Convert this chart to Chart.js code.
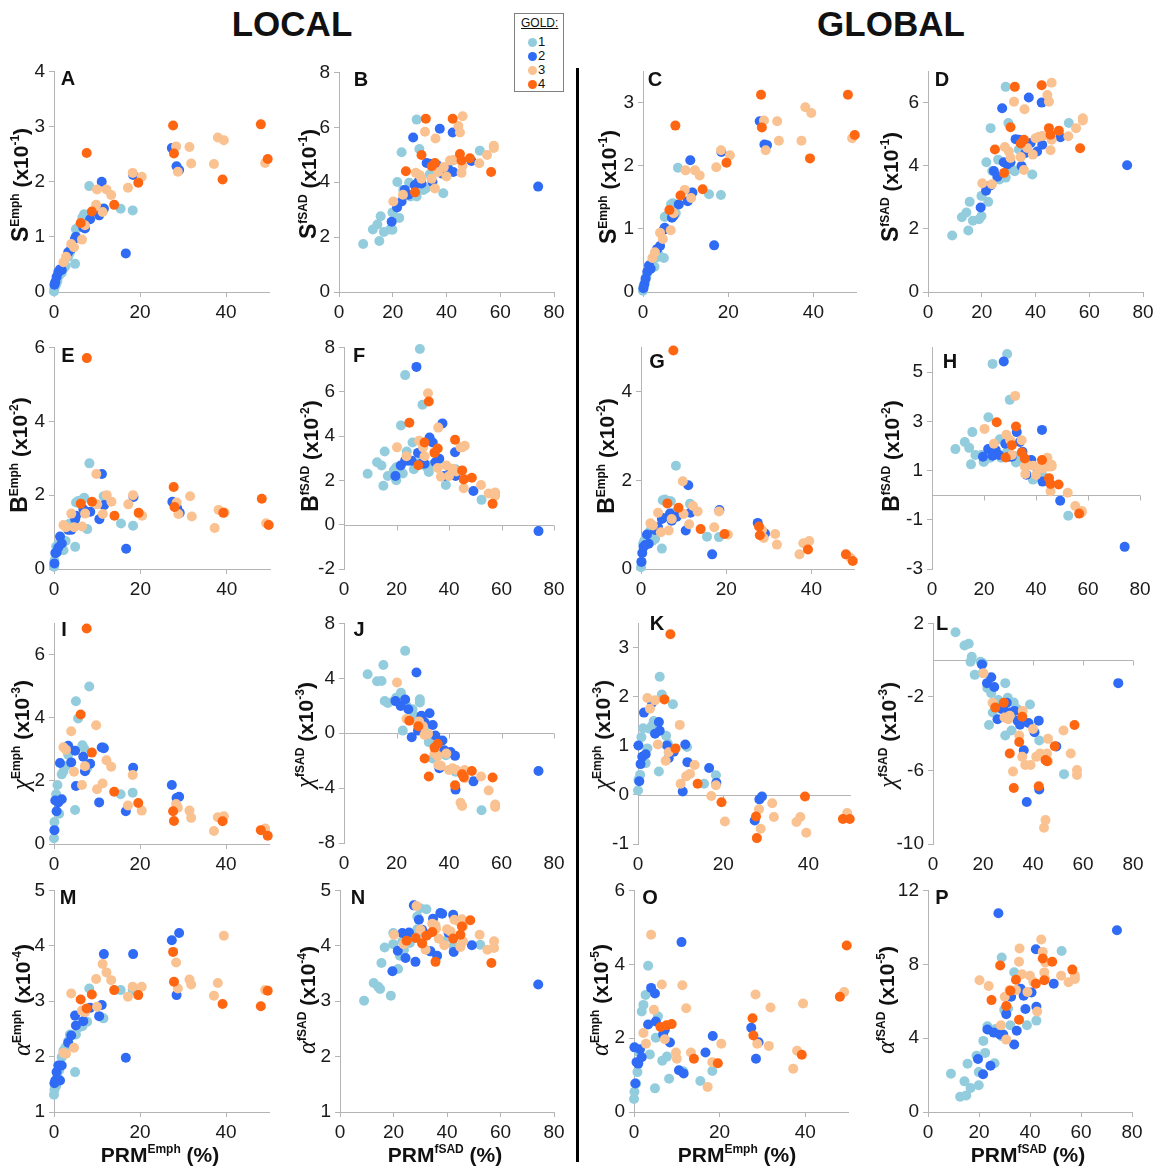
<!DOCTYPE html>
<html>
<head>
<meta charset="utf-8">
<title>PRM vs emphysema / fSAD topology</title>
<script src="https://cdn.jsdelivr.net/npm/chart.js@4.4.1/dist/chart.umd.min.js"></script>
<style>
  body { margin: 0; background: #fff; }
  #fig { position: relative; width: 1153px; height: 1170px; overflow: hidden;
         font-family: "Liberation Sans", Arial, sans-serif; color: #111; }
  .panel { position: absolute; }
  .head { position: absolute; font-weight: bold; font-size: 35px; transform: translate(-50%, -50%); }
  .letter { position: absolute; font-weight: bold; font-size: 20px; transform: translate(-50%, -50%); }
  .ytitle { position: absolute; white-space: nowrap; font-weight: bold; font-size: 21px;
            transform: translate(-50%, -50%) rotate(-90deg); }
  .ytitle .sym { font-size: 23px; }
  .ytitle .greek { font-family: "Liberation Serif", "DejaVu Serif", serif; font-weight: normal;
                   font-style: italic; font-size: 25px; }
  .ytitle sup, .xtitle sup { font-size: 12px; vertical-align: 9px; line-height: 0; }
  .xtitle { position: absolute; white-space: nowrap; font-weight: bold; font-size: 21px;
            transform: translate(-50%, -50%); }
  #divider { position: absolute; left: 576px; top: 68px; width: 3px; height: 1094px; background: #000; }
  #legend { position: absolute; left: 514px; top: 13px; width: 48px; height: 77px;
            border: 1px solid #808080; font-size: 13px; }
  #legend .lt { position: absolute; left: 6px; top: 2px; font-size: 12px; text-decoration: underline; }
  #legend .row { position: absolute; left: 13px; height: 14px; line-height: 14px; }
  #legend .dot { display: inline-block; width: 9px; height: 9px; border-radius: 50%;
                 vertical-align: -1px; margin-right: 1px; }
</style>
</head>
<body>
<div id="fig">
  <div class="head" style="left:292px; top:24px;">LOCAL</div>
  <div class="head" style="left:891px; top:24px;">GLOBAL</div>
  <div id="divider"></div>
  <div id="legend"><div class="lt">GOLD:</div></div>
</div>
<script>
// GOLD 1..4 colours
const goldColors = ['#93CDDD', '#2F6BF5', '#FAC191', '#FF6612'];

// PRM (%) of each subject, grouped by GOLD stage
const prmEmph = [
  [0.0, 0.1, 0.5, 0.8, 1.2, 1.8, 2.2, 2.7, 3.3, 3.7, 4.9, 5.1, 5.6, 6.6, 7.0, 7.7, 8.2, 11.5, 15.5, 18.3],
  [0.1, 0.3, 0.6, 1.0, 1.4, 1.8, 3.3, 4.0, 4.9, 5.1, 6.8, 7.2, 8.4, 10.5, 11.1, 11.6, 16.7, 18.4, 27.4, 28.5, 29.1],
  [2.2, 2.8, 4.0, 4.65, 6.5, 7.2, 9.8, 10.0, 11.3, 12.2, 13.3, 17.2, 18.3, 20.4, 28.4, 28.8, 31.5, 31.9, 37.2, 38.1, 39.5, 49.1],
  [6.2, 7.6, 8.8, 14, 19.6, 27.7, 27.9, 39.2, 48.1, 49.7],
];
const prmFsad = [
  [9.0, 12.6, 14.3, 15.0, 15.5, 16.7, 19.0, 19.9, 19.9, 21.7, 22.4, 23.3, 23.9, 26.1, 26.6, 28.9, 28.9, 29.9, 31.4, 32.3, 33.8, 38.8, 42.5, 52.4],
  [19.6, 21.6, 23.3, 24.5, 25.8, 27.6, 28.2, 29.5, 30.7, 32.6, 33.8, 34.8, 36.3, 37.5, 38.2, 40.6, 42.3, 42.5, 49.3, 74.1],
  [20.2, 23.8, 28.6, 30.1, 30.7, 32.0, 34.5, 35.7, 35.9, 36.9, 39.0, 40.0, 41.3, 42.8, 44.4, 45.0, 45.6, 46.0, 46.0, 52.2, 55.1, 57.6, 57.6],
  [24.9, 28.3, 30.7, 32.3, 34.5, 35.7, 42.3, 45, 45.6, 48.7, 56.6],
];

// Local measures (x10^-1, x10^-2, x10^-3, x10^-4)
const sEmphLocal = [
  [0.01, 0.07, 0.14, 0.20, 0.30, 0.35, 0.42, 0.47, 0.64, 0.71, 0.51, 1.14, 1.17, 1.35, 1.41, 1.31, 1.92, 1.52, 1.51, 1.48],
  [0.13, 0.18, 0.27, 0.36, 0.41, 0.40, 0.72, 0.78, 0.97, 1.00, 1.17, 1.15, 1.32, 1.39, 2.00, 1.51, 0.70, 2.12, 2.61, 2.28, 2.21],
  [0.54, 0.64, 0.87, 0.81, 0.95, 1.21, 1.58, 1.86, 1.45, 1.86, 1.76, 1.89, 2.16, 2.09, 2.64, 2.18, 2.63, 2.33, 2.32, 2.80, 2.75, 2.34],
  [1.25, 2.52, 1.46, 1.58, 1.98, 3.02, 2.51, 2.04, 3.04, 2.41],
];
const sFsadLocal = [
  [1.75, 2.28, 2.46, 1.86, 2.76, 2.19, 2.28, 2.90, 2.27, 4.01, 2.70, 5.09, 3.72, 3.98, 3.48, 6.28, 3.48, 5.21, 3.72, 3.77, 4.29, 3.60, 4.79, 5.15],
  [2.56, 3.08, 3.30, 3.72, 3.54, 5.63, 3.89, 4.01, 3.95, 4.70, 4.67, 4.01, 4.63, 5.95, 4.32, 4.50, 5.81, 4.37, 4.77, 3.84],
  [3.30, 3.54, 4.34, 4.25, 4.13, 5.84, 4.13, 3.77, 5.59, 4.37, 4.55, 4.21, 4.79, 4.81, 6.05, 5.81, 4.34, 4.60, 6.40, 4.69, 4.99, 5.33, 5.25],
  [4.40, 3.63, 4.99, 6.31, 4.58, 4.70, 6.31, 5.03, 4.79, 4.87, 4.37],
];
const bEmphLocal = [
  [0.06, 0.22, 0.61, 0.51, 0.70, 0.68, 0.51, 0.76, 1.20, 1.23, 0.60, 1.80, 1.84, 1.88, 1.93, 1.08, 2.86, 1.97, 1.23, 1.17],
  [0.15, 0.43, 0.45, 0.58, 0.88, 0.69, 1.06, 1.06, 1.35, 1.44, 1.62, 1.55, 1.55, 1.35, 2.57, 1.73, 0.55, 1.95, 1.82, 1.65, 1.52],
  [1.19, 1.13, 1.50, 1.13, 1.15, 1.50, 2.57, 1.75, 1.49, 2.00, 1.82, 1.75, 2.00, 1.44, 1.80, 1.49, 1.97, 1.42, 1.11, 1.60, 1.53, 1.24],
  [1.77, 5.71, 1.82, 1.44, 1.52, 2.22, 1.68, 1.52, 1.90, 1.19],
];
const bFsadLocal = [
  [2.30, 2.82, 2.67, 1.76, 3.30, 2.20, 2.45, 2.01, 2.59, 4.48, 2.31, 6.75, 3.30, 3.71, 2.50, 7.93, 2.80, 5.41, 2.62, 2.38, 2.70, 1.79, 2.50, 1.12],
  [2.20, 2.67, 2.89, 2.89, 2.89, 7.12, 3.24, 2.75, 2.75, 3.93, 3.71, 2.82, 2.97, 4.57, 2.20, 2.45, 3.27, 2.20, 1.52, -0.29],
  [3.49, 3.09, 3.79, 3.49, 3.09, 5.93, 3.29, 2.56, 4.38, 2.16, 2.67, 2.20, 2.52, 2.40, 3.49, 3.49, 1.64, 2.08, 3.56, 1.79, 1.41, 1.31, 1.45],
  [4.60, 2.68, 3.71, 5.56, 3.24, 3.44, 3.83, 2.45, 2.04, 2.12, 0.94],
];
const chiEmphLocal = [
  [0.18, 0.70, 1.58, 1.87, 0.96, 2.21, 2.31, 2.47, 2.83, 2.94, 1.08, 4.53, 3.98, 3.13, 3.04, 2.40, 5.00, 3.07, 1.58, 1.63],
  [0.44, 1.38, 1.04, 1.32, 2.57, 1.42, 3.12, 2.59, 2.96, 1.84, 2.77, 2.31, 2.55, 1.32, 3.06, 3.04, 1.04, 2.42, 1.87, 1.46, 1.50],
  [3.07, 2.99, 3.58, 2.29, 1.87, 2.47, 3.77, 1.74, 1.92, 2.66, 2.45, 1.22, 2.19, 1.06, 1.27, 1.15, 1.06, 0.83, 0.41, 0.85, 0.88, 0.49],
  [4.11, 6.84, 2.90, 1.66, 1.30, 1.04, 0.73, 0.72, 0.44, 0.26],
];
const chiFsadLocal = [
  [4.30, 3.78, 3.80, 4.97, 2.34, 2.20, 2.34, 2.34, 2.58, 2.94, 0.19, 6.00, 1.98, 1.74, 1.26, 2.47, 2.24, 0.98, 0.54, -0.65, -1.84, -1.60, -2.80, -5.61],
  [2.34, 1.98, 2.46, 1.74, -0.29, 4.42, 0.19, 1.27, 0.80, 1.46, 0.60, -0.17, -2.56, -0.53, -1.25, -1.37, -1.65, -4.11, -3.51, -2.75],
  [3.70, 1.03, 0.86, 0.50, -0.12, -0.05, -1.48, -1.65, -2.32, -2.37, -1.48, -2.68, -2.56, -2.68, -5.07, -5.31, -3.00, -3.28, -2.68, -3.15, -4.18, -5.19, -5.38],
  [0.91, 0.50, -1.84, -3.15, -1.05, -0.77, -3.80, -2.99, -3.20, -2.75, -3.23],
];
const alphaEmphLocal = [
  [1.31, 1.40, 1.47, 1.63, 1.75, 1.99, 2.11, 2.17, 2.28, 2.40, 1.72, 2.40, 2.52, 2.55, 2.81, 2.63, 3.23, 2.69, 3.20, 3.20],
  [1.52, 1.57, 1.72, 1.84, 1.57, 1.84, 2.25, 2.38, 2.74, 2.56, 2.64, 2.82, 2.88, 2.73, 2.93, 3.85, 1.98, 3.85, 4.10, 3.11, 4.23],
  [2.07, 2.05, 3.14, 2.16, 2.83, 2.80, 3.40, 2.90, 3.67, 3.52, 3.38, 3.08, 3.26, 3.26, 3.70, 3.23, 3.39, 3.30, 3.10, 3.33, 4.18, 3.20],
  [3.03, 2.87, 3.12, 3.20, 3.11, 3.89, 3.35, 2.95, 2.91, 3.19],
];
const alphaFsadLocal = [
  [3.01, 3.33, 3.26, 3.22, 3.69, 3.97, 3.10, 4.03, 4.23, 3.58, 3.82, 4.08, 3.93, 4.05, 4.13, 4.53, 4.30, 4.68, 4.23, 4.66, 3.90, 4.08, 4.00, 4.02],
  [3.54, 3.91, 4.23, 3.78, 4.24, 4.73, 3.71, 4.47, 4.29, 4.20, 3.90, 4.49, 3.82, 4.59, 4.58, 4.23, 4.56, 3.89, 4.01, 3.30],
  [4.20, 4.03, 4.72, 4.29, 4.06, 3.93, 4.40, 4.37, 4.31, 4.13, 4.01, 4.30, 4.26, 4.47, 4.44, 3.98, 4.48, 4.08, 4.35, 4.20, 3.93, 4.08, 3.96],
  [4.09, 4.14, 4.04, 4.18, 4.25, 3.71, 4.13, 4.20, 4.35, 4.46, 3.69],
];

// Global measures
const sEmphGlobal = [
  [0.02, 0.08, 0.16, 0.24, 0.32, 0.37, 0.42, 0.40, 0.55, 0.59, 0.54, 1.19, 1.21, 1.39, 1.41, 1.25, 1.97, 1.58, 1.55, 1.54],
  [0.06, 0.12, 0.21, 0.32, 0.42, 0.37, 0.68, 0.73, 0.99, 1.02, 1.18, 1.21, 1.39, 1.44, 2.09, 1.58, 0.74, 2.22, 2.71, 2.34, 2.33],
  [0.54, 0.63, 0.94, 0.84, 0.98, 1.25, 1.62, 1.93, 1.49, 1.93, 1.85, 1.98, 2.25, 2.17, 2.72, 2.25, 2.71, 2.40, 2.40, 2.93, 2.84, 2.44],
  [1.30, 2.64, 1.53, 1.63, 2.05, 3.13, 2.61, 2.12, 3.13, 2.49],
];
const sFsadGlobal = [
  [1.79, 2.37, 2.52, 1.95, 2.86, 2.26, 2.31, 3.05, 2.41, 4.12, 2.86, 5.20, 3.84, 4.20, 3.57, 6.51, 3.63, 5.36, 3.88, 3.83, 4.52, 3.73, 4.94, 5.36],
  [2.68, 3.21, 3.38, 3.84, 3.66, 5.83, 4.12, 4.05, 4.12, 4.85, 4.83, 4.00, 4.41, 6.17, 4.73, 4.46, 6.01, 4.67, 4.91, 4.02],
  [3.45, 3.42, 4.60, 4.46, 4.25, 6.04, 4.28, 3.87, 5.80, 4.57, 4.36, 4.88, 4.93, 4.95, 6.25, 6.04, 4.50, 4.83, 6.64, 4.94, 5.20, 5.51, 5.44],
  [4.52, 3.78, 5.23, 6.51, 4.71, 4.83, 6.56, 5.20, 4.99, 5.12, 4.56],
];
const bEmphGlobal = [
  [0.04, 0.16, 0.57, 0.64, 0.68, 0.68, 0.87, 0.64, 0.68, 0.94, 0.46, 1.55, 1.57, 1.53, 1.53, 1.27, 2.33, 1.47, 0.73, 0.72],
  [0.16, 0.36, 0.50, 0.54, 0.78, 0.57, 0.88, 0.94, 1.13, 1.15, 1.25, 1.09, 1.18, 0.87, 1.89, 1.27, 0.33, 1.33, 1.04, 0.79, 0.80],
  [1.03, 0.98, 1.27, 0.83, 0.87, 1.13, 1.98, 1.24, 1.01, 1.42, 1.30, 0.94, 1.30, 0.78, 0.88, 0.70, 0.79, 0.55, 0.33, 0.58, 0.63, 0.26],
  [1.48, 4.93, 1.38, 0.90, 0.79, 0.96, 0.76, 0.44, 0.33, 0.18],
];
const bFsadGlobal = [
  [1.87, 2.16, 1.92, 1.25, 2.56, 1.63, 1.63, 1.36, 1.36, 3.16, 1.52, 5.33, 1.76, 2.27, 1.52, 5.73, 1.76, 3.87, 1.60, 1.33, 1.50, 0.63, 0.80, -0.84],
  [1.56, 1.87, 1.60, 1.83, 1.63, 5.43, 2.09, 1.56, 1.56, 2.56, 2.16, 1.76, 0.83, 1.36, 1.43, 1.07, 2.65, 0.55, -0.23, -2.10],
  [2.69, 2.09, 2.45, 2.23, 1.63, 4.03, 2.23, 1.16, 0.86, 1.21, 1.19, 0.82, 1.09, 1.09, 1.52, 1.16, 0.16, 1.23, 1.16, 0.10, -0.44, -0.64, -0.70],
  [2.96, 1.53, 2.03, 2.79, 1.73, 1.49, 1.43, 0.69, 0.45, 0.43, -0.75],
];
const chiEmphGlobal = [
  [0.09, 0.31, 0.41, 1.18, 1.36, 0.65, 0.95, 1.35, 1.41, 1.51, 0.48, 2.41, 2.05, 1.21, 1.05, 0.90, 1.85, 0.98, 0.23, 0.40],
  [1.01, 0.28, 0.63, 0.78, 1.68, 0.83, 1.88, 1.25, 1.49, 1.31, 1.01, 0.75, 0.88, 0.07, 1.03, 0.67, 0.55, 0.25, -0.52, -0.09, -0.03],
  [1.98, 1.76, 1.93, 1.03, 0.70, 0.87, 1.43, 0.23, 0.38, 0.43, 0.61, -0.02, 0.20, -0.54, -0.29, -0.69, -0.17, -0.45, -0.55, -0.45, -0.77, -0.37],
  [1.95, 3.28, 0.95, 0.23, -0.15, -0.44, -0.88, -0.03, -0.49, -0.49],
];
const chiFsadGlobal = [
  [1.52, 0.80, 0.89, -0.09, 0.18, -0.80, -0.09, -0.17, -0.70, -1.51, -3.53, -1.80, -2.85, -2.17, -2.30, -1.25, -4.10, -2.05, -3.83, -2.30, -2.67, -2.41, -4.37, -6.20],
  [-0.23, -1.25, -0.93, -1.46, -3.21, -2.67, -2.46, -2.32, -2.85, -2.76, -3.29, -3.51, -4.90, -7.72, -3.42, -3.92, -3.29, -7.04, -4.69, -1.25],
  [-0.71, -2.32, -3.12, -3.21, -3.03, -6.06, -4.10, -5.26, -2.76, -5.70, -5.70, -3.74, -5.26, -5.08, -9.12, -8.70, -5.08, -4.28, -5.50, -3.83, -5.08, -5.97, -6.24],
  [-2.58, -2.32, -5.08, -6.95, -4.45, -3.08, -6.86, -5.43, -5.50, -4.68, -3.53],
];
const alphaEmphGlobal = [
  [0.35, 0.55, 0.77, 1.08, 1.61, 2.72, 2.90, 3.17, 3.96, 1.56, 0.64, 2.01, 2.59, 1.39, 2.20, 1.50, 0.90, 1.10, 0.84, 1.11],
  [1.75, 0.77, 1.35, 1.31, 1.70, 1.48, 2.37, 3.36, 3.21, 2.45, 2.10, 2.23, 1.88, 1.13, 4.60, 1.04, 1.61, 2.06, 2.28, 1.44, 1.89],
  [2.14, 1.85, 4.80, 2.77, 3.45, 1.97, 1.61, 1.44, 3.43, 2.81, 1.61, 0.68, 1.35, 1.85, 3.18, 1.85, 1.79, 2.83, 1.17, 1.66, 2.94, 3.25],
  [2.30, 2.35, 2.38, 1.44, 1.32, 2.54, 2.07, 1.55, 3.12, 4.51],
];
const alphaFsadGlobal = [
  [2.07, 0.83, 1.66, 0.90, 2.61, 1.30, 3.05, 2.16, 1.45, 3.85, 3.20, 4.64, 4.46, 2.64, 4.50, 8.37, 4.10, 5.53, 5.60, 4.70, 7.57, 4.70, 4.95, 8.72],
  [2.87, 2.04, 4.47, 2.50, 4.30, 10.76, 4.20, 4.20, 5.30, 6.24, 3.66, 4.40, 6.68, 6.30, 5.58, 6.47, 8.81, 5.70, 6.95, 9.84],
  [7.13, 6.82, 4.70, 6.24, 3.92, 6.60, 6.60, 8.14, 8.85, 7.46, 6.50, 7.38, 7.06, 5.44, 9.34, 8.67, 7.56, 8.10, 7.20, 7.38, 7.03, 7.20, 7.38],
  [6.06, 7.93, 5.74, 6.56, 7.16, 5.00, 6.95, 8.31, 7.13, 8.14, 7.71],
];

// tick values
const emphTicks = [0, 20, 40];
const fsadTicks = [0, 20, 40, 60, 80];

const AXIS = '#b4b4b4';
const TEXT = '#1a1a1a';
const FONT = '"Liberation Sans", Arial, sans-serif';
const PAD_L = 46, PAD_R = 16, PAD_T = 12, PAD_B = 36;

function yLabel(sym, sup, exp, greek) {
  const s = greek ? '<span class="greek">' + sym + '</span>' : '<span class="sym">' + sym + '</span>';
  return s + '<sup>' + sup + '</sup> (x10<sup>' + exp + '</sup>)';
}

// box = [left, top, right, bottom] of the plot area
const panels = [
  { id: 'A', x: prmEmph, y: sEmphLocal, xt: emphTicks, xMax: 50, yt: [0, 1, 2, 3, 4], yMin: 0, yMax: 4,
    box: [54, 68, 269, 292], t: [20, 185], l: [68, 78], label: yLabel('S', 'Emph', '-1') },
  { id: 'B', x: prmFsad, y: sFsadLocal, xt: fsadTicks, xMax: 80, yt: [0, 2, 4, 6, 8], yMin: 0, yMax: 8,
    box: [339, 69, 554, 292], t: [308, 184], l: [361, 79], label: yLabel('S', 'fSAD', '-1') },
  { id: 'C', x: prmEmph, y: sEmphGlobal, xt: emphTicks, xMax: 50, yt: [0, 1, 2, 3], yMin: 0, yMax: 3.5,
    box: [643, 68, 856, 292], t: [608, 187], l: [655, 79], label: yLabel('S', 'Emph', '-1') },
  { id: 'D', x: prmFsad, y: sFsadGlobal, xt: fsadTicks, xMax: 80, yt: [0, 2, 4, 6], yMin: 0, yMax: 7,
    box: [928, 68, 1143, 292], t: [890, 187], l: [942, 79], label: yLabel('S', 'fSAD', '-1') },

  { id: 'E', x: prmEmph, y: bEmphLocal, xt: emphTicks, xMax: 50, yt: [0, 2, 4, 6], yMin: 0, yMax: 6,
    box: [54, 344, 270, 569], t: [19, 455], l: [68, 355], label: yLabel('B', 'Emph', '-2') },
  { id: 'F', x: prmFsad, y: bFsadLocal, xt: fsadTicks, xMax: 80, yt: [-2, 0, 2, 4, 6, 8], yMin: -2, yMax: 8, zero: true,
    box: [344, 344, 554, 569], t: [310, 456], l: [359, 355], label: yLabel('B', 'fSAD', '-2') },
  { id: 'G', x: prmEmph, y: bEmphGlobal, xt: emphTicks, xMax: 50, yt: [0, 2, 4], yMin: 0, yMax: 5,
    box: [641, 344, 854, 569], t: [606, 456], l: [657, 361], label: yLabel('B', 'Emph', '-2') },
  { id: 'H', x: prmFsad, y: bFsadGlobal, xt: fsadTicks, xMax: 80, yt: [-3, -1, 1, 3, 5], yMin: -3, yMax: 6, zero: true,
    box: [932, 344, 1140, 569], t: [891, 456], l: [950, 361], label: yLabel('B', 'fSAD', '-2') },

  { id: 'I', x: prmEmph, y: chiEmphLocal, xt: emphTicks, xMax: 50, yt: [0, 2, 4, 6], yMin: 0, yMax: 7,
    box: [54, 620, 269, 844], t: [21, 735], l: [64, 629], label: yLabel('χ', 'Emph', '-3', true) },
  { id: 'J', x: prmFsad, y: chiFsadLocal, xt: fsadTicks, xMax: 80, yt: [-8, -4, 0, 4, 8], yMin: -8, yMax: 8, zero: true,
    box: [344, 620, 554, 843], t: [305, 735], l: [359, 629], label: yLabel('χ', 'fSAD', '-3', true) },
  { id: 'K', x: prmEmph, y: chiEmphGlobal, xt: emphTicks, xMax: 50, yt: [-1, 0, 1, 2, 3], yMin: -1, yMax: 3.5, zero: true,
    box: [638, 620, 851, 844], t: [602, 735], l: [657, 623], label: yLabel('χ', 'Emph', '-3', true) },
  { id: 'L', x: prmFsad, y: chiFsadGlobal, xt: fsadTicks, xMax: 80, yt: [-10, -6, -2, 2], yMin: -10, yMax: 2, zero: true,
    box: [933, 620, 1133, 844], t: [888, 735], l: [942, 623], label: yLabel('χ', 'fSAD', '-3', true) },

  { id: 'M', x: prmEmph, y: alphaEmphLocal, xt: emphTicks, xMax: 50, yt: [1, 2, 3, 4, 5], yMin: 1, yMax: 5,
    box: [54, 887, 269, 1112], t: [22, 1000], l: [68, 897], label: yLabel('α', 'Emph', '-4', true) },
  { id: 'N', x: prmFsad, y: alphaFsadLocal, xt: fsadTicks, xMax: 80, yt: [1, 2, 3, 4, 5], yMin: 1, yMax: 5,
    box: [340, 887, 554, 1112], t: [307, 1000], l: [358, 897], label: yLabel('α', 'fSAD', '-4', true) },
  { id: 'O', x: prmEmph, y: alphaEmphGlobal, xt: emphTicks, xMax: 50, yt: [0, 2, 4, 6], yMin: 0, yMax: 6,
    box: [634, 887, 848, 1112], t: [600, 1000], l: [650, 897], label: yLabel('α', 'Emph', '-5', true) },
  { id: 'P', x: prmFsad, y: alphaFsadGlobal, xt: fsadTicks, xMax: 80, yt: [0, 4, 8, 12], yMin: 0, yMax: 12,
    box: [928, 887, 1132, 1112], t: [886, 1000], l: [942, 897], label: yLabel('α', 'fSAD', '-5', true) },
];

const xTitles = [
  { html: 'PRM<sup>Emph</sup> (%)', at: [160, 1155] },
  { html: 'PRM<sup>fSAD</sup> (%)', at: [445, 1155] },
  { html: 'PRM<sup>Emph</sup> (%)', at: [737, 1155] },
  { html: 'PRM<sup>fSAD</sup> (%)', at: [1028, 1155] },
];

// x axis drawn through y = 0 for panels whose values go negative
const zeroAxis = {
  id: 'zeroAxis',
  beforeDatasetsDraw(chart, args, opts) {
    if (!opts.on) return;
    const { ctx, chartArea, scales: { x, y } } = chart;
    const py = Math.round(y.getPixelForValue(0)) + 0.5;
    ctx.save();
    ctx.strokeStyle = AXIS;
    ctx.lineWidth = 1;
    ctx.beginPath();
    ctx.moveTo(chartArea.left, py);
    ctx.lineTo(chartArea.right, py);
    x.ticks.forEach(t => {
      const px = Math.round(x.getPixelForValue(t.value)) + 0.5;
      ctx.moveTo(px, py);
      ctx.lineTo(px, py + 5);
    });
    ctx.stroke();
    ctx.restore();
  }
};

const fig = document.getElementById('fig');

function addDiv(cls, html, x, y) {
  const d = document.createElement('div');
  d.className = cls;
  d.innerHTML = html;
  d.style.left = x + 'px';
  d.style.top = y + 'px';
  fig.appendChild(d);
  return d;
}

function makePanel(p) {
  const [l, t, r, b] = p.box;
  const w = r - l + PAD_L + PAD_R;
  const h = b - t + PAD_T + PAD_B;
  const holder = document.createElement('div');
  holder.className = 'panel';
  holder.style.left = (l - PAD_L) + 'px';
  holder.style.top = (t - PAD_T) + 'px';
  const cv = document.createElement('canvas');
  cv.width = w;
  cv.height = h;
  cv.style.width = w + 'px';
  cv.style.height = h + 'px';
  holder.appendChild(cv);
  fig.appendChild(holder);

  const datasets = p.y.map((ys, g) => ({
    label: 'GOLD ' + (g + 1),
    data: ys.map((v, i) => ({ x: p.x[g][i], y: v })),
    backgroundColor: goldColors[g],
    pointRadius: 5,
    pointHoverRadius: 5,
    pointBorderWidth: 0,
    order: 4 - g,
    clip: false
  }));

  const tickFont = { family: FONT, size: 19 };

  new Chart(cv, {
    type: 'scatter',
    data: { datasets },
    options: {
      responsive: false,
      animation: false,
      events: [],
      layout: { padding: { top: PAD_T, right: PAD_R, left: 0, bottom: 0 } },
      plugins: {
        legend: { display: false },
        tooltip: { enabled: false },
        zeroAxis: { on: !!p.zero }
      },
      scales: {
        x: {
          type: 'linear',
          min: 0,
          max: p.xMax,
          afterBuildTicks: s => { s.ticks = p.xt.map(v => ({ value: v })); },
          afterFit: s => { s.height = PAD_B; },
          border: { display: !p.zero, color: AXIS, width: 1 },
          grid: { drawOnChartArea: false, drawTicks: true, tickLength: 5,
                  tickColor: p.zero ? 'rgba(0,0,0,0)' : AXIS, color: AXIS },
          ticks: { font: tickFont, color: TEXT, padding: 4, maxRotation: 0, autoSkip: false }
        },
        y: {
          type: 'linear',
          min: p.yMin,
          max: p.yMax,
          afterBuildTicks: s => { s.ticks = p.yt.map(v => ({ value: v })); },
          afterFit: s => { s.width = PAD_L; },
          border: { display: true, color: AXIS, width: 1 },
          grid: { drawOnChartArea: false, drawTicks: true, tickLength: 5, tickColor: AXIS, color: AXIS },
          ticks: { font: tickFont, color: TEXT, padding: 4, autoSkip: false }
        }
      }
    },
    plugins: [zeroAxis]
  });

  addDiv('letter', p.id, p.l[0], p.l[1]);
  addDiv('ytitle', p.label, p.t[0], p.t[1]);
}

panels.forEach(makePanel);
xTitles.forEach(t => addDiv('xtitle', t.html, t.at[0], t.at[1]));

// legend rows
const legend = document.getElementById('legend');
goldColors.forEach((c, i) => {
  const row = document.createElement('div');
  row.className = 'row';
  row.style.top = (21 + i * 14) + 'px';
  row.innerHTML = '<span class="dot" style="background:' + c + '"></span>' + (i + 1);
  legend.appendChild(row);
});
</script>
</body>
</html>
